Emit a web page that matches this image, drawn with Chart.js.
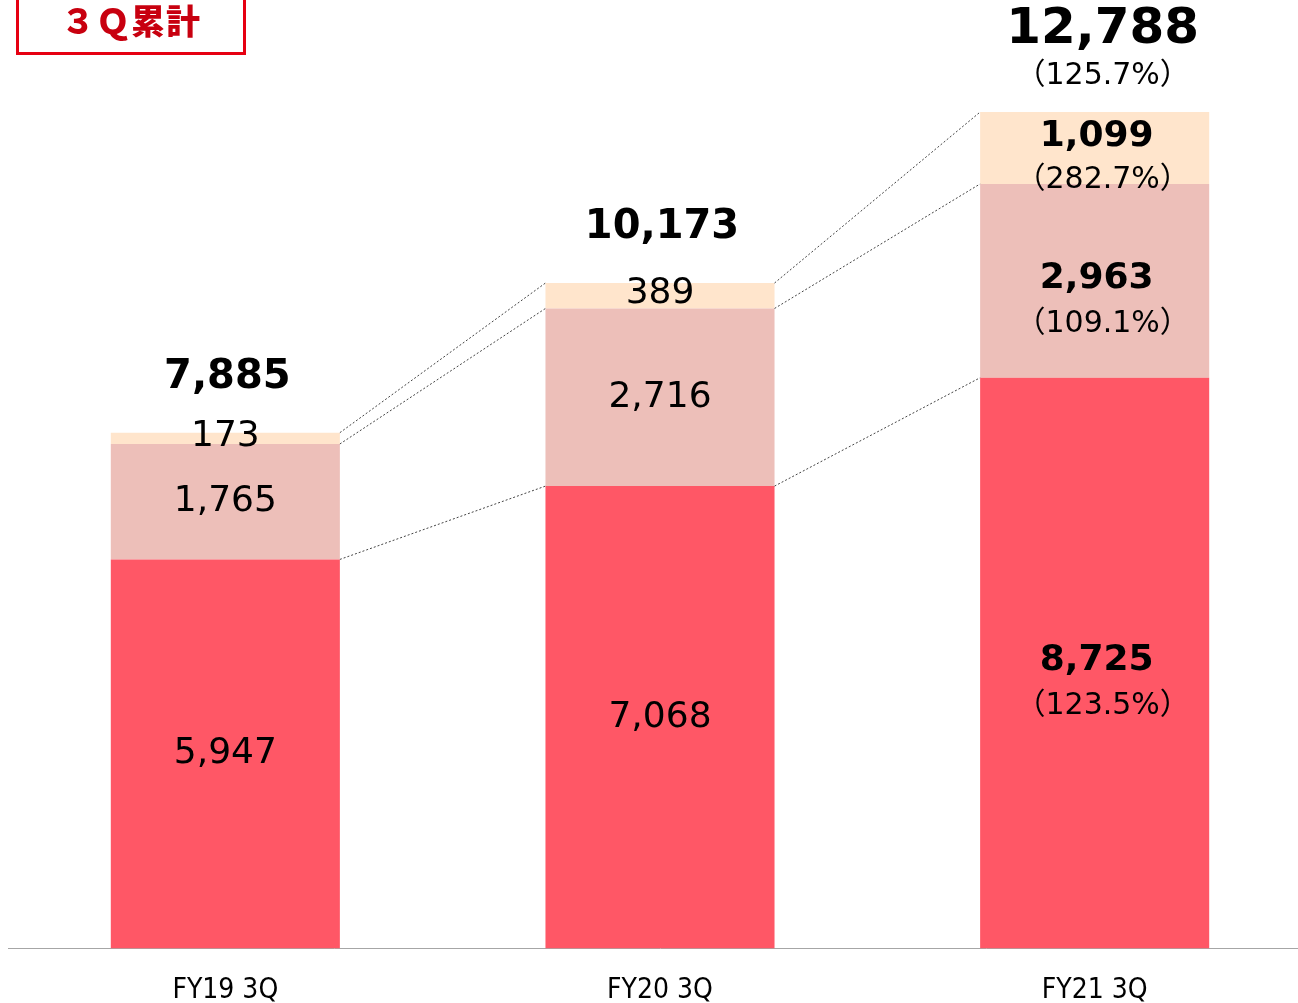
<!DOCTYPE html>
<html>
<head>
<meta charset="utf-8">
<script src="https://cdn.jsdelivr.net/npm/chart.js@4/dist/chart.umd.min.js"></script>
<style>
  html, body { margin: 0; padding: 0; background: #fff; overflow: hidden; }
  #wrap { position: relative; width: 1298px; height: 1003px; overflow: hidden; }
  #chart { position: absolute; left: 0; top: 0; }
  .tag {
    position: absolute; left: 16px; top: -4px; width: 224px; height: 53px;
    border: 3px solid #e60012; box-sizing: content-box;
    color: #c8000f; font: 900 34px "Noto Sans CJK JP", sans-serif;
    text-align: center; line-height: 42px; letter-spacing: 1px;
  }
</style>
</head>
<body>
<div id="wrap">
  <canvas id="chart" width="1312" height="1034"></canvas>
  <div class="tag">３Ｑ累計</div>
</div>
<script>
const categories = ["FY19 3Q", "FY20 3Q", "FY21 3Q"];
const baseValues = [5947, 7068, 8725];
const midValues = [1765, 2716, 2963];
const topValues = [173, 389, 1099];
const totals = [7885, 10173, 12788];
// year-on-year ratios, shown for the latest period only
const baseRatio = [null, null, "123.5%"];
const midRatio = [null, null, "109.1%"];
const topRatio = [null, null, "282.7%"];
const totalRatio = [null, null, "125.7%"];

const FONT = '"DejaVu Sans", "Noto Sans CJK JP", sans-serif';
const fmt = (v) => v.toLocaleString("en-US");

const labelPlugin = {
  id: "labels",
  afterDatasetsDraw(chart) {
    const ctx = chart.ctx;
    const ratios = [baseRatio, midRatio, topRatio];
    const metas = [0, 1, 2].map((i) => chart.getDatasetMeta(i));

    // dotted connectors between neighbouring bars
    ctx.save();
    ctx.strokeStyle = "#444";
    ctx.lineWidth = 1;
    ctx.setLineDash([2, 2]);
    for (let s = 0; s < 3; s++) {
      const bars = metas[s].data;
      for (let i = 0; i < bars.length - 1; i++) {
        const a = bars[i], b = bars[i + 1];
        ctx.beginPath();
        ctx.moveTo(a.x + a.width / 2, a.y);
        ctx.lineTo(b.x - b.width / 2, b.y);
        ctx.stroke();
      }
    }
    ctx.restore();

    ctx.save();
    ctx.textAlign = "center";
    ctx.textBaseline = "middle";
    ctx.fillStyle = "#000";
    for (let s = 0; s < 3; s++) {
      const ds = chart.data.datasets[s];
      metas[s].data.forEach((bar, i) => {
        const mid = (bar.y + bar.base) / 2;
        const r = ratios[s][i];
        if (r) {
          const vy = s === 2 ? bar.y + 25 : mid - 2;
          ctx.font = "bold 36px " + FONT;
          ctx.fillText(fmt(ds.data[i]), bar.x + 2, vy);
          ctx.font = "30px " + FONT;
          ctx.fillText("（" + r + "）", bar.x + 8, vy + (s === 2 ? 43 : 45));
        } else {
          ctx.font = "36px " + FONT;
          ctx.fillText(fmt(ds.data[i]), bar.x, s === 2 ? mid - 2 : mid);
        }
      });
    }
    // totals above the stacks
    metas[2].data.forEach((bar, i) => {
      if (totalRatio[i]) {
        ctx.font = "bold 50px " + FONT;
        ctx.fillText(fmt(totals[i]), bar.x + 8, bar.y - 82);
        ctx.font = "30px " + FONT;
        ctx.fillText("（" + totalRatio[i] + "）", bar.x + 8, bar.y - 36);
      } else {
        ctx.font = "bold 40px " + FONT;
        ctx.fillText(fmt(totals[i]), bar.x + 2, bar.y - 55);
      }
    });
    ctx.restore();
  },
};

new Chart(document.getElementById("chart"), {
  type: "bar",
  data: {
    labels: categories,
    datasets: [
      { data: baseValues, backgroundColor: "#ff5766" },
      { data: midValues, backgroundColor: "#edbfb9" },
      { data: topValues, backgroundColor: "#ffe5cc" },
    ],
  },
  options: {
    responsive: false,
    devicePixelRatio: 1,
    animation: false,
    layout: { padding: { left: 8, top: 0, right: 0, bottom: 0 } },
    datasets: { bar: { barPercentage: 1, categoryPercentage: 0.527, borderWidth: 0 } },
    plugins: { legend: { display: false }, tooltip: { enabled: false } },
    scales: {
      x: {
        stacked: true,
        grid: { display: false, drawTicks: false },
        border: { color: "#a6a6a6", width: 1 },
        ticks: { color: "#000", padding: 26, font: { family: '"DejaVu Sans Condensed", "DejaVu Sans", sans-serif', size: 28 } },
      },
      y: { stacked: true, display: false, min: 0, max: 14500 },
    },
  },
  plugins: [labelPlugin],
});
</script>
</body>
</html>
